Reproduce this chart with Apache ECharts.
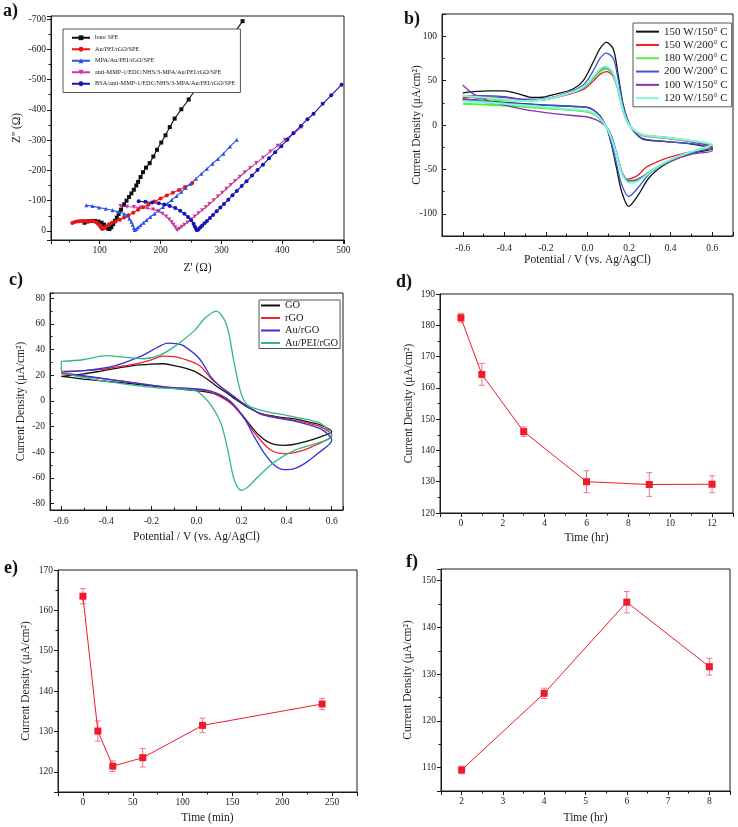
<!DOCTYPE html>
<html><head><meta charset="utf-8">
<script src="https://cdn.jsdelivr.net/npm/echarts@6/dist/echarts.min.js"></script>
<style>html,body{margin:0;padding:0;background:#fff}#c{width:738px;height:827px}</style>
</head><body><div id="c"></div>
<script>
// ---------- Panel a: Nyquist plots [Z' (Ω), Z'' (Ω)] ----------
const aNames = ['bare SPE', 'Au/PEI/rGO/SPE', 'MPA/Au/PEI/rGO/SPE', 'anti-MMP-1/EDC/NHS/3-MPA/Au/PEI/rGO/SPE', 'BSA/anti-MMP-1/EDC/NHS/3-MPA/Au/PEI/rGO/SPE'];
const aBare = [[75,-27],[80,-31],[86,-33],[92,-33],[98,-31],[103,-27],[107,-21],[110,-14],[113,-8],[116,-6],[119,-12],[122,-22],[125,-33],[128,-44],[131,-56],[135,-70],[140,-88],[144,-100],[148,-112],[152,-124],[156,-136],[160,-150],[163,-162],[167,-178],[171,-194],[176,-209],[182,-224],[188,-246],[194,-268],[201,-292],[208,-316],[215,-343],[223,-371],[234,-402],[246,-434],[334.5,-693]];
const aAuPEI = [[55,-26],[58,-29],[62,-31],[66,-32],[70,-33],[74,-33],[78,-33],[82,-33],[86,-33],[90,-32],[94,-29],[97,-24],[100,-17],[102,-11],[104,-6],[106,-8],[110,-14],[115,-22],[120,-27],[126,-31],[133,-37],[140,-44],[147,-52],[155,-60],[163,-70],[171,-78],[180,-87],[190,-97],[200,-107],[210,-117],[220,-126],[230,-135],[240,-145],[252,-158]];
const aMPA = [[78,-85],[88,-82],[99,-77],[110,-73],[121,-68],[131,-63],[140,-57],[145,-50],[149,-40],[152,-30],[154,-20],[156,-10],[157.5,-3],[160,-6],[163,-12],[167,-19],[172,-27],[177,-36],[183,-46],[190,-57],[197,-68],[204,-79],[211,-90],[218,-102],[226,-115],[234,-129],[241,-142],[249,-156],[258,-172],[267,-189],[276,-205],[285,-222],[294,-238],[303,-255],[314,-279],[325,-301]];
const aAnti = [[134,-82],[145,-80],[156,-79],[167,-77],[178,-75],[188,-71],[196,-66],[203,-57],[209,-48],[214,-38],[218,-29],[221,-20],[224,-12],[226,-5],[228,-3],[231,-8],[235,-14],[239,-20],[244,-28],[250,-38],[256,-48],[262,-58],[268,-68],[274,-78],[280,-89],[287,-101],[294,-114],[301,-126],[308,-139],[315,-152],[322,-165],[330,-179],[338,-193],[347,-208],[357,-224],[368,-242],[380,-262],[392,-281],[404,-301],[418,-322],[432,-343]];
const aBSA = [[164,-98],[175,-96],[186,-94],[197,-91],[206,-87],[215,-82],[224,-76],[232,-67],[239,-57],[245,-46],[250,-35],[254,-24],[256,-15],[258,-7],[259.5,-2],[262,-5],[265,-11],[268,-17],[272,-25],[276,-33],[281,-43],[286,-53],[292,-65],[298,-77],[304,-89],[311,-103],[318,-118],[325,-132],[333,-148],[341,-164],[350,-183],[359,-201],[368,-219],[378,-240],[388,-260],[398,-280],[408,-301],[418,-323],[430,-347],[441,-369],[451,-387],[466,-420],[480,-448],[497,-483]];

// ---------- Panel b: CV curves [V, µA/cm²] ----------
const bNames = ['150 W/150° C', '150 W/200° C', '180 W/200° C', '200 W/200° C', '100 W/150° C', '120 W/150° C'];
const b150_150 = [[-0.6,36],[-0.55,37.5],[-0.47,38.5],[-0.4,38.5],[-0.34,35.5],[-0.28,31.5],[-0.23,31],[-0.15,35],[-0.07,40.5],[-0.02,50],[0.03,72],[0.06,86],[0.09,93],[0.124,85.6],[0.147,57],[0.171,23.6],[0.195,4.8],[0.22,-6.4],[0.266,-15.8],[0.377,-18.8],[0.5,-21.4],[0.6,-27],
  [0.5,-31.9],[0.377,-43.9],[0.298,-58.9],[0.242,-79.6],[0.198,-91.6],[0.163,-74],[0.139,-47.7],[0.115,-21.4],[0.091,-2.6],[0.06,10.5],[0.028,16.9],[-0.006,19.9],[-0.233,22.9],[-0.47,26.7],[-0.6,29.3]];
const b150_200 = [[-0.6,31],[-0.5,32],[-0.4,31],[-0.3,28],[-0.2,29],[-0.1,34],[-0.02,40],[0.03,50],[0.06,57],[0.09,60],[0.12,56],[0.147,40],[0.171,17],[0.195,3],[0.22,-5],[0.266,-12],[0.377,-15],[0.5,-19],[0.6,-25],
  [0.5,-30],[0.4,-36],[0.33,-42],[0.282,-47.6],[0.24,-57],[0.19,-61],[0.165,-55],[0.145,-38],[0.12,-18],[0.095,-4],[0.07,4],[0.04,11],[0,15],[-0.2,19],[-0.4,23],[-0.6,28]];
const b180_200 = [[-0.6,27],[-0.5,28],[-0.4,28],[-0.3,27],[-0.2,29],[-0.1,35],[-0.02,42],[0.03,53],[0.06,60],[0.085,63],[0.12,58],[0.147,40],[0.171,17],[0.195,2],[0.22,-5],[0.266,-11],[0.377,-14],[0.5,-18],[0.6,-23],
  [0.5,-31],[0.4,-40],[0.33,-48],[0.28,-56],[0.235,-62],[0.2,-63],[0.17,-56],[0.145,-38],[0.12,-18],[0.095,-4],[0.07,5],[0.04,11],[0,15],[-0.2,19],[-0.4,22],[-0.6,24]];
const b200_200 = [[-0.6,33],[-0.5,33],[-0.4,32],[-0.3,29],[-0.2,30],[-0.1,36],[-0.02,45],[0.03,62],[0.06,75],[0.09,81],[0.124,75],[0.147,52],[0.171,22],[0.195,4],[0.22,-6],[0.266,-15],[0.377,-18.5],[0.5,-21],[0.6,-26],
  [0.5,-31],[0.377,-42],[0.298,-55],[0.242,-71],[0.198,-80.5],[0.163,-66],[0.139,-43],[0.115,-20],[0.091,-2],[0.06,10],[0.028,17],[0,20],[-0.233,22.5],[-0.47,26],[-0.6,29]];
const b100_150 = [[-0.6,28],[-0.5,30],[-0.4,31],[-0.3,28],[-0.2,29],[-0.1,35],[-0.02,42],[0.03,54],[0.06,62],[0.085,65],[0.12,59],[0.147,40],[0.171,16],[0.195,2],[0.22,-5],[0.266,-11],[0.377,-14],[0.5,-19],[0.6,-25],
  [0.6,-29],[0.5,-33],[0.4,-40],[0.33,-48],[0.28,-56],[0.235,-62],[0.2,-63],[0.17,-55],[0.145,-36],[0.12,-15],[0.095,-3],[0.07,2],[0.04,6],[0,9],[-0.153,12.5],[-0.312,18],[-0.47,26.7],[-0.55,35],[-0.6,45]];
const b120_150 = [[-0.6,33],[-0.5,31],[-0.4,29],[-0.3,27],[-0.2,29],[-0.1,35],[-0.02,43],[0.03,55],[0.06,63],[0.085,66],[0.12,60],[0.147,41],[0.171,17],[0.195,2],[0.22,-5],[0.266,-11],[0.377,-14],[0.5,-18],[0.6,-22],
  [0.5,-30],[0.4,-39],[0.33,-48],[0.28,-57],[0.235,-64],[0.2,-65],[0.17,-57],[0.145,-38],[0.12,-18],[0.095,-4],[0.07,5],[0.04,12],[0,16],[-0.2,20],[-0.4,24],[-0.6,27]];

// ---------- Panel c: CV curves [V, µA/cm²] ----------
const cNames = ['GO', 'rGO', 'Au/rGO', 'Au/PEI/rGO'];
const cGO = [[-0.6,19],[-0.5,21],[-0.43,23],[-0.35,25.5],[-0.28,27.5],[-0.2,28.6],[-0.15,28.9],[-0.1,27.5],[-0.05,25.5],[-0.008,23],[0.03,19],[0.065,14.7],[0.1,10],[0.139,5.6],[0.175,1],[0.213,-3.5],[0.25,-7],[0.287,-10],[0.36,-12.5],[0.435,-14],[0.5,-16.5],[0.553,-19],[0.6,-24],
  [0.55,-28],[0.479,-32],[0.43,-34],[0.39,-34.6],[0.35,-34],[0.316,-32],[0.285,-28],[0.257,-23],[0.228,-16.5],[0.198,-10],[0.17,-4.5],[0.139,0.4],[0.11,3.5],[0.08,5.6],[0.021,7.5],[-0.06,9],[-0.134,10.3],[-0.208,11.8],[-0.356,14.6],[-0.504,17],[-0.6,19]];
const cRGO = [[-0.6,23],[-0.5,23.5],[-0.43,24.3],[-0.35,26.5],[-0.282,28.4],[-0.2,32],[-0.149,34.9],[-0.1,34.5],[-0.06,32.8],[0.013,27.6],[0.065,17.3],[0.1,12],[0.139,6.8],[0.198,-0.9],[0.24,-6],[0.287,-10],[0.36,-13],[0.435,-15.2],[0.553,-20.4],[0.6,-26.8],
  [0.509,-36],[0.435,-40.3],[0.39,-41.1],[0.331,-38.5],[0.272,-28.2],[0.213,-13.9],[0.154,-2.2],[0.094,4.3],[0.035,8.2],[-0.134,10.7],[-0.356,16],[-0.6,21.2]];
const cAuRGO = [[-0.6,22.3],[-0.5,23.5],[-0.43,25],[-0.356,27.6],[-0.3,31],[-0.238,35.4],[-0.18,41],[-0.127,45],[-0.09,44.5],[-0.06,43.2],[0.013,32.8],[0.065,18.5],[0.1,12],[0.139,6.8],[0.198,-0.9],[0.24,-6],[0.287,-10.5],[0.36,-13.5],[0.435,-15.7],[0.553,-22],[0.6,-30.7],
  [0.538,-41],[0.479,-48.9],[0.435,-52.8],[0.39,-53.6],[0.346,-50.2],[0.302,-41.1],[0.257,-28.2],[0.213,-13.9],[0.154,-0.9],[0.094,5.6],[0.035,8.7],[-0.134,10.7],[-0.356,16],[-0.6,22]];
const cAuPEI = [[-0.6,30.7],[-0.504,32],[-0.4,35.2],[-0.326,34.1],[-0.238,32.8],[-0.164,35.4],[-0.09,43.2],[-0.008,54.9],[0.035,64],[0.087,69.9],[0.132,60],[0.168,28.9],[0.198,5.6],[0.228,-3.5],[0.287,-7.4],[0.435,-12.6],[0.553,-17.8],[0.6,-28],
  [0.553,-32],[0.435,-38.5],[0.346,-47.6],[0.272,-59.3],[0.228,-67],[0.198,-69.6],[0.168,-61.9],[0.139,-38.5],[0.109,-17.8],[0.065,-3.5],[0.021,5],[-0.008,8.2],[-0.208,10.7],[-0.43,16],[-0.548,19.8],[-0.6,24],[-0.6,30.7]];

// ---------- Panels d, e, f: current density with error bars ----------
const dTime = [0, 1, 3, 6, 9, 12];
const dDensity = [182.4, 164.3, 146.0, 130.0, 129.1, 129.2];
const dError = [1.4, 3.5, 1.5, 3.5, 3.8, 2.7];
const eTime = [0, 15, 30, 60, 120, 240];
const eDensity = [163.5, 130.1, 121.4, 123.5, 131.5, 136.8];
const eError = [1.9, 2.5, 1.3, 2.3, 1.8, 1.4];
const fTime = [2, 4, 6, 8];
const fDensity = [109.5, 125.9, 145.4, 131.6];
const fError = [0.8, 1.1, 2.3, 1.8];

const FONT = 'Liberation Serif';
const INK = '#1a1a1a';

function mkAxis(o) {
  return {
    type: 'value', gridIndex: o.g, min: o.min, max: o.max, splitNumber: o.split, interval: o.interval,
    inverse: !!o.inverse,
    axisLine: {show: true, onZero: false, lineStyle: {color: INK, width: 1}},
    axisTick: {show: true, inside: !!o.inside, length: 4, lineStyle: {color: INK}},
    minorTick: {show: true, splitNumber: 2, length: 2.5, lineStyle: {color: INK}},
    splitLine: {show: false},
    axisLabel: {fontFamily: FONT, fontSize: 9.5, color: INK, margin: o.margin || 5, formatter: o.fmt, hideOverlap: false},
    name: o.name, nameLocation: 'middle', nameGap: o.gap, nameRotate: o.rot,
    nameMoveOverlap: o.noMove ? false : undefined,
    nameTextStyle: {fontFamily: FONT, fontSize: o.nfs || 11.5, color: INK}
  };
}
const multOf = (m) => (v) => { const r = v / m; return Math.abs(r - Math.round(r)) < 1e-6 ? String(Math.round(r) * m) : ''; };
const tenths = (v) => { const k = Math.round(v * 10); if (Math.abs(v * 10 - k) > 1e-6 || k % 2 !== 0) return ''; return (k / 10).toFixed(1); };

const grids = [
  {left: 51, top: 16, width: 293, height: 224},
  {left: 442, top: 14, width: 291, height: 222},
  {left: 50, top: 293, width: 293, height: 217},
  {left: 440, top: 294, width: 293, height: 219},
  {left: 58, top: 570, width: 299, height: 222},
  {left: 441, top: 569, width: 289, height: 222}
].map(g => Object.assign({show: true, borderColor: INK, borderWidth: 1, backgroundColor: 'transparent'}, g));

const CD = 'Current Density (μA/cm²)';
const xAxes = [
  mkAxis({g: 0, min: 20, max: 501, split: 5, fmt: multOf(100), name: "Z' (Ω)", gap: 22}),
  mkAxis({g: 1, min: -0.7, max: 0.7, split: 7, fmt: tenths, inside: true, margin: 7, name: 'Potential / V (vs. Ag/AgCl)', gap: 16}),
  mkAxis({g: 2, min: -0.65, max: 0.65, split: 6, fmt: tenths, inside: true, margin: 6, name: 'Potential / V (vs. Ag/AgCl)', gap: 21}),
  mkAxis({g: 3, min: -1, max: 13, split: 7, fmt: multOf(2), name: 'Time (hr)', gap: 19}),
  mkAxis({g: 4, min: -25, max: 275, split: 6, fmt: multOf(50), name: 'Time (min)', gap: 20}),
  mkAxis({g: 5, min: 1.5, max: 8.5, split: 7, fmt: multOf(1), name: 'Time (hr)', gap: 21})
];
const yAxes = [
  mkAxis({g: 0, min: -710, max: 30, split: 7, inverse: true, fmt: multOf(100), name: "Z'' (Ω)", gap: 28}),
  mkAxis({g: 1, min: -125, max: 125, split: 5, inside: true, fmt: multOf(50), name: CD, gap: 19, noMove: true}),
  mkAxis({g: 2, min: -85, max: 84, split: 8, inside: true, fmt: multOf(20), name: CD, gap: 23}),
  mkAxis({g: 3, min: 120, max: 190, interval: 10, fmt: multOf(10), name: CD, gap: 25}),
  mkAxis({g: 4, min: 115, max: 170, split: 5, fmt: multOf(10), name: CD, gap: 26}),
  mkAxis({g: 5, min: 105, max: 152.5, split: 5, fmt: multOf(10), name: CD, gap: 27})
];

const series = [];
// panel a
const aSets = [
  [aNames[0], aBare, '#111111', 'rect', 0],
  [aNames[1], aAuPEI, '#ee1111', 'circle', 0],
  [aNames[2], aMPA, '#2a50ee', 'triangle', 0],
  [aNames[3], aAnti, '#c8389c', 'triangle', 180],
  [aNames[4], aBSA, '#1414b4', 'circle', 0]
];
aSets.forEach(([n, d, c, s, rot]) => series.push({
  name: n, type: 'line', xAxisIndex: 0, yAxisIndex: 0, data: d, color: c,
  symbol: s, symbolRotate: rot, symbolSize: 4, lineStyle: {width: 1.1, color: c}, itemStyle: {color: c}
}));
// panel b
const bSets = [
  [bNames[0], b150_150, '#111111', 1.3],
  [bNames[1], b150_200, '#ee2222', 1.3],
  [bNames[2], b180_200, '#55ee44', 2],
  [bNames[3], b200_200, '#3a58d0', 1.3],
  [bNames[4], b100_150, '#8a2fae', 1.3],
  [bNames[5], b120_150, '#80f8de', 2]
];
bSets.forEach(([n, d, c, w]) => series.push({
  name: n, type: 'line', xAxisIndex: 1, yAxisIndex: 1, data: d, color: c, smooth: 0.3,
  symbol: 'none', lineStyle: {width: w, color: c}
}));
// panel c
const cSets = [
  [cNames[0], cGO, '#111111'],
  [cNames[1], cRGO, '#ee2233'],
  [cNames[2], cAuRGO, '#3434dd'],
  [cNames[3], cAuPEI, '#30b888']
];
cSets.forEach(([n, d, c]) => series.push({
  name: n, type: 'line', xAxisIndex: 2, yAxisIndex: 2, data: d, color: c, smooth: 0.3,
  symbol: 'none', lineStyle: {width: 1.3, color: c}
}));
// panels d, e, f
function errBars(idx, xs, ys, es) {
  return {
    type: 'custom', xAxisIndex: idx, yAxisIndex: idx, z: 3, silent: true,
    data: xs.map((x, i) => [x, ys[i] - es[i], ys[i] + es[i]]),
    encode: {x: 0, y: [1, 2]},
    renderItem: (params, api) => {
      const x = api.value(0);
      const lo = api.coord([x, api.value(1)]);
      const hi = api.coord([x, api.value(2)]);
      const w = 3;
      const st = {stroke: '#f0788c', lineWidth: 1};
      return {type: 'group', children: [
        {type: 'line', shape: {x1: lo[0], y1: lo[1], x2: hi[0], y2: hi[1]}, style: st},
        {type: 'line', shape: {x1: lo[0] - w, y1: lo[1], x2: lo[0] + w, y2: lo[1]}, style: st},
        {type: 'line', shape: {x1: hi[0] - w, y1: hi[1], x2: hi[0] + w, y2: hi[1]}, style: st}
      ]};
    }
  };
}
[[3, dTime, dDensity, dError], [4, eTime, eDensity, eError], [5, fTime, fDensity, fError]].forEach(([i, xs, ys, es]) => {
  series.push(errBars(i, xs, ys, es));
  series.push({
    type: 'line', xAxisIndex: i, yAxisIndex: i, z: 4, data: xs.map((x, k) => [x, ys[k]]),
    symbol: 'rect', symbolSize: 7, lineStyle: {width: 1, color: '#f01a2a'}, itemStyle: {color: '#f01a2a'}
  });
});

const legends = [
  {data: aNames, left: 63, top: 29, orient: 'vertical', padding: [4, 5, 4, 8], itemGap: 2, itemWidth: 18, itemHeight: 6,
   backgroundColor: '#fff', borderColor: '#555', borderWidth: 1,
   textStyle: {fontFamily: FONT, fontSize: 6.3, lineHeight: 9.5, color: INK}},
  {data: bNames, left: 633, top: 23, orient: 'vertical', padding: [2, 4, 2, 3], itemGap: 0, itemWidth: 23, itemHeight: 2, icon: 'rect',
   backgroundColor: '#fff', borderColor: '#555', borderWidth: 1,
   textStyle: {fontFamily: FONT, fontSize: 11, lineHeight: 13.3, color: INK}},
  {data: cNames, left: 259, top: 300, orient: 'vertical', padding: [0, 2, 0, 2], itemGap: 1.5, itemWidth: 19, itemHeight: 2, icon: 'rect',
   backgroundColor: '#fff', borderColor: '#555', borderWidth: 1,
   textStyle: {fontFamily: FONT, fontSize: 10.5, lineHeight: 10.5, color: INK}}
];

const labelStyle = {fontFamily: FONT, fontSize: 18, fontWeight: 'bold', fill: '#111'};
const panels = [['a)', 3, 2], ['b)', 404, 10], ['c)', 9, 271], ['d)', 396, 273], ['e)', 4, 559], ['f)', 406, 553]];
const graphic = panels.map(([t, x, y]) => ({type: 'text', left: x, top: y, style: Object.assign({text: t}, labelStyle)}));

const chart = echarts.init(document.getElementById('c'), null, {renderer: 'canvas', width: 738, height: 827});
chart.setOption({
  animation: false,
  backgroundColor: '#ffffff',
  textStyle: {fontFamily: FONT},
  grid: grids, xAxis: xAxes, yAxis: yAxes,
  legend: legends, series: series, graphic: graphic
});
</script></body></html>
